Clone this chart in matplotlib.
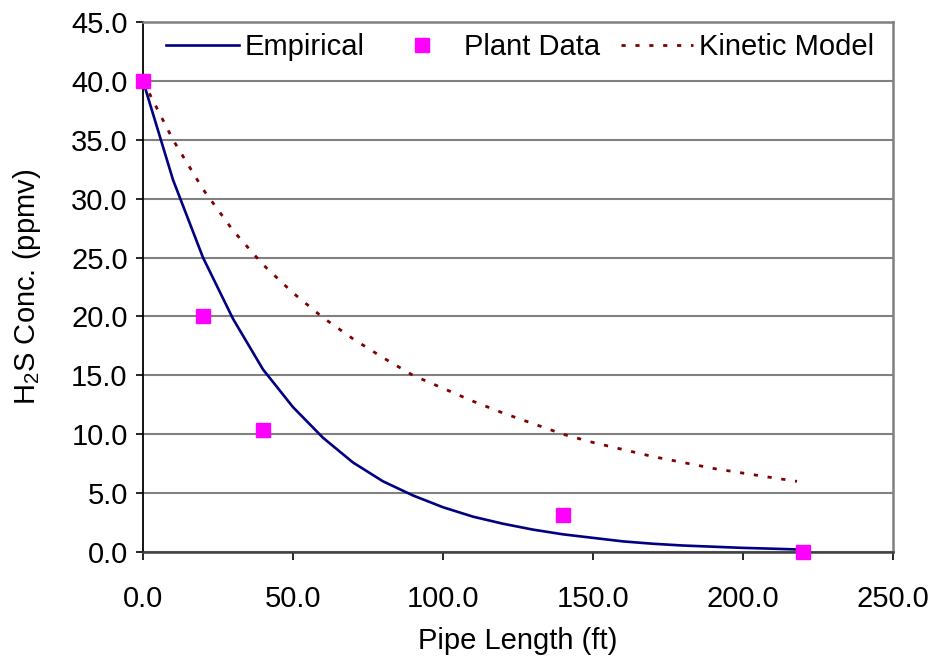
import matplotlib.pyplot as plt
from matplotlib.ticker import FormatStrFormatter, MultipleLocator

plt.rcParams["font.family"] = ["Liberation Sans", "DejaVu Sans"]
plt.rcParams["mathtext.fontset"] = "custom"
plt.rcParams["mathtext.rm"] = "Liberation Sans"
plt.rcParams["mathtext.it"] = "Liberation Sans:italic"

# values
empirical_x = [0, 10, 20, 30, 40, 50, 60, 70, 80, 90, 100, 110, 120,
               130, 140, 150, 160, 170, 180, 190, 200, 210, 220]
empirical_y = [40.0, 31.6, 25.0, 19.8, 15.5, 12.3, 9.7, 7.6, 6.0, 4.8, 3.8, 3.0, 2.4,
               1.9, 1.5, 1.2, 0.9, 0.7, 0.55, 0.45, 0.35, 0.28, 0.2]

plant_x = [0, 20, 40, 140, 220]
plant_y = [40.0, 20.0, 10.4, 3.1, 0.0]

kinetic_x = [0, 10, 20, 30, 40, 50, 60, 70, 80, 90, 100, 110, 120,
             130, 140, 150, 160, 170, 180, 190, 200, 210, 218]
kinetic_y = [40.0, 35.0, 30.8, 27.3, 24.4, 22.0, 19.9, 18.1, 16.5, 15.0, 13.9, 12.8, 11.8,
             10.9, 10.0, 9.3, 8.7, 8.1, 7.6, 7.1, 6.7, 6.3, 6.0]

FS = 21

fig = plt.figure(figsize=(9.31, 6.59), dpi=100)
ax = fig.add_axes([143 / 931, 1 - 552 / 659, 750 / 931, 530 / 659])

ax.plot(empirical_x, empirical_y, color="#000080", lw=1.9, label="Empirical", zorder=3)
ax.plot(plant_x, plant_y, ls="none", marker="s", ms=10, color="#FF00FF",
        mec="#FF00FF", label="Plant Data", zorder=5, clip_on=False)
ax.plot(kinetic_x, kinetic_y, color="#800000", lw=2, ls=(0, (1.5, 3.5)),
        label="Kinetic Model", zorder=4)

ax.set_xlim(0, 250)
ax.set_ylim(0, 45)
ax.xaxis.set_major_locator(MultipleLocator(50))
ax.yaxis.set_major_locator(MultipleLocator(5))
ax.xaxis.set_major_formatter(FormatStrFormatter("%.1f"))
ax.yaxis.set_major_formatter(FormatStrFormatter("%.1f"))
ax.tick_params(axis="x", direction="out", length=6, width=1.2, pad=18, labelsize=FS)
ax.tick_params(axis="y", direction="out", length=5, width=1.2, pad=6, labelsize=FS)

ax.grid(axis="y", color="#808080", lw=1.5)
ax.set_axisbelow(True)
ax.spines["left"].set_color("black")
ax.spines["left"].set_linewidth(1.3)
ax.spines["bottom"].set_color("#404040")
ax.spines["bottom"].set_linewidth(1.8)
for side in ("top", "right"):
    ax.spines[side].set_color("#808080")
    ax.spines[side].set_linewidth(1.8)

ax.set_xlabel("Pipe Length (ft)", fontsize=FS, labelpad=10)
ax.set_ylabel("H$_2$S Conc. (ppmv)", fontsize=FS, labelpad=20)

ax.legend(loc="center", bbox_to_anchor=(0.503, 0.953), ncol=3, frameon=False,
          fontsize=FS, handlelength=2.5, handletextpad=0.2, columnspacing=0.7,
          borderaxespad=0)

fig.savefig("out.png", dpi=100, facecolor="white")
plt.close(fig)
